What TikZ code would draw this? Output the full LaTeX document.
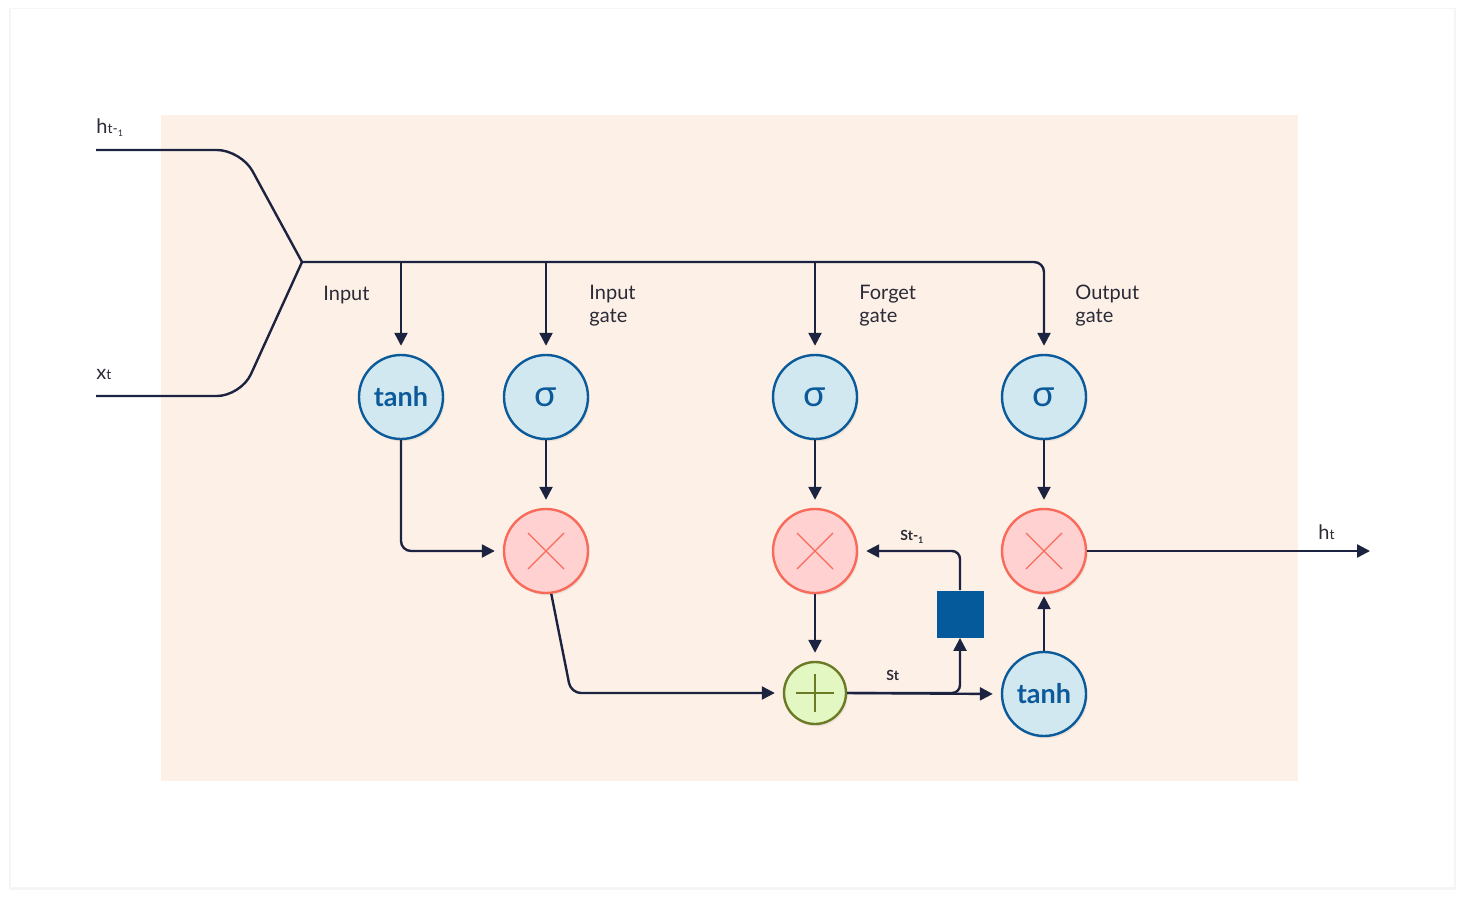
\documentclass[tikz,border=0pt]{standalone}
\usepackage{fontspec}
\setmainfont{Lato}
\usepackage{xcolor}
\usetikzlibrary{arrows.meta, positioning, calc, shadows}
\definecolor{lineC}{HTML}{1C2340}
\definecolor{textC}{HTML}{2B2B38}
\definecolor{peach}{HTML}{FDF0E7}
\definecolor{gateB}{HTML}{0B5A9A}
\definecolor{gateF}{HTML}{D2E8F1}
\definecolor{mulB}{HTML}{F86A5A}
\definecolor{mulF}{HTML}{FFD1D1}
\definecolor{addB}{HTML}{6B7A25}
\definecolor{addF}{HTML}{E3F7C3}
\definecolor{memC}{HTML}{055A9C}
\begin{document}
\begin{tikzpicture}[x=0.5pt,y=-0.5pt,
    wire/.style={draw=lineC, line width=1.2pt},
    arr/.style={wire, -{Triangle[length=6.5pt,width=6.5pt]}, shorten >=4pt},
    softshadow/.style={drop shadow={opacity=0.12, shadow xshift=0.8pt, shadow yshift=-1.2pt}},
    gate/.style={circle, draw=gateB, fill=gateF, line width=1.2pt, minimum size=42pt,
        inner sep=0pt, text=gateB, softshadow},
    tanhtxt/.style={font=\bfseries\fontsize{13.5}{15}\selectfont},
    sigtxt/.style={font=\fontsize{18.5}{20}\selectfont},
    mult/.style={circle, draw=mulB, fill=mulF, line width=1.2pt, minimum size=42pt,
        inner sep=0pt, softshadow,
        path picture={\draw[mulB, line width=0.6pt] (path picture bounding box.center)
            ++(-9pt,-9pt) -- ++(18pt,18pt) ++(-18pt,0pt) -- ++(18pt,-18pt);}},
    addc/.style={circle, draw=addB, fill=addF, line width=1.2pt, minimum size=31pt,
        inner sep=0pt, softshadow,
        path picture={\draw[addB, line width=0.7pt] (path picture bounding box.center)
            ++(-9.5pt,0pt) -- ++(19pt,0pt) ++(-9.5pt,-9.5pt) -- ++(0pt,19pt);}},
    memsq/.style={rectangle, fill=memC, minimum size=23.5pt, inner sep=0pt},
    lbl/.style={text=textC, font=\fontsize{10}{11.5}\selectfont, inner sep=0pt, anchor=west, align=left},
    sublbl/.style={text=textC, inner sep=0pt, anchor=west}
]
% card and background
\useasboundingbox (0,0) rectangle (1465,899);
\fill[white] (0,0) rectangle (1465,899);
\fill[black!4] (9,8) rectangle (1456,890);
\fill[white] (11,9) rectangle (1454,887);
\fill[peach] (161,115) rectangle (1298,781);

% cell nodes
\node[gate, tanhtxt] (tanhi) at (401,397) {tanh};
\node[gate, sigtxt] (sigi) at (546,397) {σ};
\node[gate, sigtxt] (sigf) at (815,397) {σ};
\node[gate, sigtxt] (sigo) at (1044,397) {σ};
\node[mult] (muli) at (546,551) {};
\node[mult] (mulf) at (815,551) {};
\node[mult] (mulo) at (1044,551) {};
\node[addc] (add) at (815,693) {};
\node[gate, tanhtxt] (tanhc) at (1044,694) {tanh};
\node[memsq] (mem) at (960,614) {};

% free ends
\coordinate (hin) at (96,150);
\coordinate (xin) at (96,396);
\coordinate (join) at (302,262);
\coordinate (bend) at (571,693);
\coordinate (hout) at (1370,551);

% inputs merge
\draw[wire, rounded corners=12pt] (hin) -- (241,150) -- (join);
\draw[wire, rounded corners=12pt] (xin) -- (241,396) -- (join);
\draw[arr, rounded corners=5pt] (join) -- (sigo |- join) -- (sigo.north);
\draw[arr] (tanhi |- join) -- (tanhi.north);
\draw[arr] (sigi |- join) -- (sigi.north);
\draw[arr] (sigf |- join) -- (sigf.north);

% gates to products
\draw[arr, rounded corners=5pt] (tanhi.south) |- (muli.west);
\draw[arr] (sigi.south) -- (muli.north);
\draw[arr] (sigf.south) -- (mulf.north);
\draw[arr] (sigo.south) -- (mulo.north);
\draw[arr] (mulf.south) -- (add.north);
\draw[arr, rounded corners=5pt] (muli.-83) -- (bend) -- (add.west);

% cell state
\draw[arr] (add.east) -- (tanhc.west);
\draw[arr, shorten >=0pt, rounded corners=4pt] (add.east) -| (mem.south);
\draw[arr, rounded corners=4pt] (mem.north) |- (mulf.east);
\draw[arr, shorten >=1pt] (tanhc.north) -- (mulo.south);
\draw[arr, shorten >=0pt] (mulo.east) -- (hout);

% labels
\node[lbl] (linput) at (323,295) {Input};
\node[lbl] (linpg) at (589,306) {Input\\gate};
\node[lbl] (lforg) at (859,306) {Forget\\gate};
\node[lbl] (loutg) at (1075,306) {Output\\gate};
\node[sublbl] (lhprev) at (96,128) {{\fontsize{10}{12}\selectfont h}{\fontsize{7}{8}\selectfont t-\raisebox{-1.5pt}{\fontsize{4.5}{5}\selectfont 1}}};
\node[sublbl] (lx) at (96,374) {{\fontsize{10}{12}\selectfont x}{\fontsize{7}{8}\selectfont t}};
\node[sublbl] (lh) at (1318,532) {{\fontsize{10}{12}\selectfont h}{\fontsize{7}{8}\selectfont t}};
\node[sublbl] (ls) at (886,675) {{\fontsize{7}{8}\selectfont\bfseries St}};
\node[sublbl] (lsprev) at (900,537) {{\fontsize{7}{8}\selectfont\bfseries St-\raisebox{-1.2pt}{\fontsize{4.5}{5}\selectfont 1}}};
\end{tikzpicture}
\end{document}
